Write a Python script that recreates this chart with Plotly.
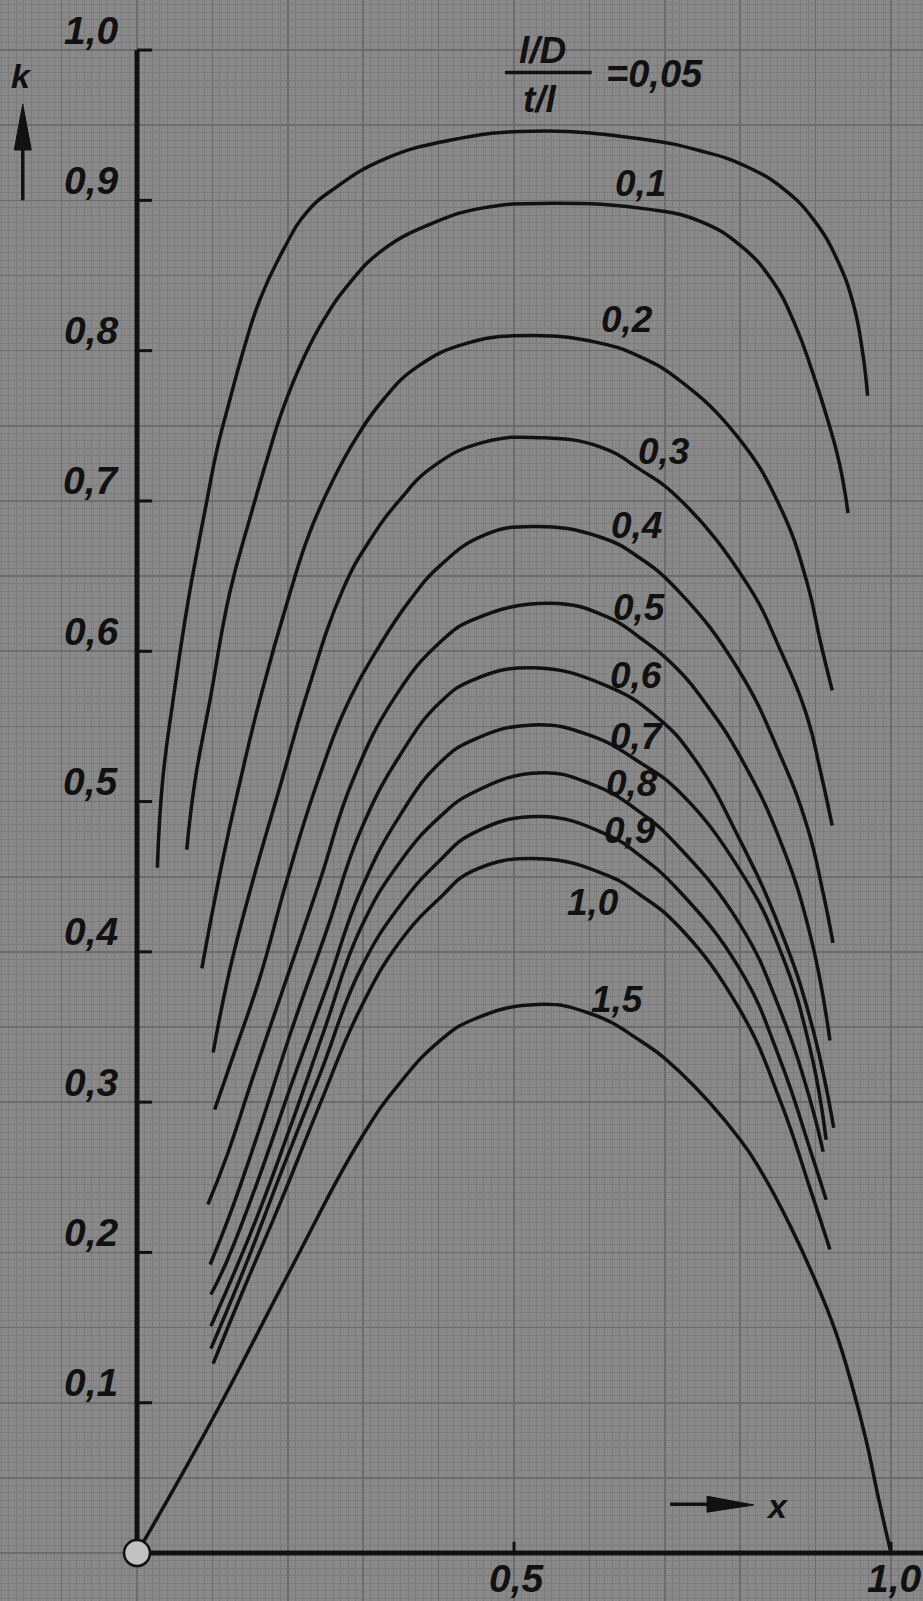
import plotly.graph_objects as go

# ---- data (x, k); parameter (l/D)/(t/l) ----
params = ["0,05", "0,1", "0,2", "0,3", "0,4", "0,5", "0,6", "0,7", "0,8", "0,9", "1,0", "1,5"]

x_005 = [0.027, 0.034, 0.048, 0.068, 0.080, 0.093, 0.106, 0.123, 0.141, 0.163, 0.194, 0.225, 0.265, 0.326, 0.415, 0.525, 0.667, 0.747, 0.806, 0.859, 0.899, 0.930, 0.950, 0.962, 0.969]
k_005 = [0.456, 0.514, 0.568, 0.634, 0.667, 0.701, 0.734, 0.767, 0.800, 0.834, 0.867, 0.892, 0.909, 0.927, 0.940, 0.946, 0.941, 0.933, 0.923, 0.907, 0.886, 0.859, 0.831, 0.800, 0.770]

x_01 = [0.066, 0.077, 0.097, 0.123, 0.150, 0.172, 0.194, 0.220, 0.247, 0.282, 0.326, 0.393, 0.459, 0.548, 0.680, 0.747, 0.800, 0.842, 0.873, 0.895, 0.916, 0.932, 0.943]
k_01 = [0.468, 0.514, 0.568, 0.639, 0.689, 0.727, 0.762, 0.794, 0.820, 0.845, 0.867, 0.885, 0.895, 0.898, 0.894, 0.886, 0.870, 0.847, 0.817, 0.787, 0.754, 0.724, 0.692]

x_02 = [0.086, 0.114, 0.137, 0.163, 0.203, 0.229, 0.260, 0.292, 0.326, 0.371, 0.438, 0.525, 0.614, 0.667, 0.720, 0.796, 0.853, 0.889, 0.906, 0.922]
k_02 = [0.389, 0.462, 0.514, 0.568, 0.639, 0.679, 0.714, 0.743, 0.767, 0.789, 0.805, 0.810, 0.805, 0.796, 0.780, 0.743, 0.696, 0.645, 0.607, 0.574]

x_03 = [0.101, 0.123, 0.154, 0.192, 0.223, 0.273, 0.309, 0.349, 0.393, 0.459, 0.538, 0.614, 0.667, 0.720, 0.809, 0.853, 0.889, 0.906, 0.922]
k_03 = [0.333, 0.388, 0.448, 0.514, 0.568, 0.641, 0.674, 0.701, 0.723, 0.739, 0.742, 0.736, 0.721, 0.701, 0.645, 0.601, 0.556, 0.521, 0.484]

x_04 = [0.103, 0.127, 0.163, 0.199, 0.240, 0.282, 0.322, 0.362, 0.402, 0.459, 0.525, 0.614, 0.667, 0.720, 0.796, 0.853, 0.889, 0.910, 0.923]
k_04 = [0.295, 0.330, 0.383, 0.448, 0.514, 0.568, 0.604, 0.634, 0.657, 0.677, 0.683, 0.676, 0.662, 0.639, 0.589, 0.531, 0.483, 0.439, 0.406]

x_05 = [0.094, 0.119, 0.154, 0.199, 0.243, 0.286, 0.344, 0.402, 0.446, 0.548, 0.623, 0.667, 0.711, 0.756, 0.802, 0.853, 0.893, 0.919]
k_05 = [0.232, 0.264, 0.317, 0.383, 0.448, 0.514, 0.571, 0.606, 0.621, 0.632, 0.623, 0.609, 0.591, 0.564, 0.528, 0.474, 0.411, 0.341]

x_06 = [0.097, 0.123, 0.163, 0.207, 0.252, 0.296, 0.349, 0.402, 0.446, 0.525, 0.623, 0.690, 0.740, 0.800, 0.853, 0.893, 0.924]
k_06 = [0.192, 0.225, 0.283, 0.351, 0.415, 0.480, 0.531, 0.566, 0.581, 0.589, 0.577, 0.556, 0.528, 0.474, 0.415, 0.355, 0.283]

x_07 = [0.098, 0.119, 0.159, 0.207, 0.252, 0.296, 0.349, 0.402, 0.446, 0.525, 0.601, 0.667, 0.720, 0.800, 0.853, 0.893, 0.914]
k_07 = [0.172, 0.194, 0.246, 0.315, 0.377, 0.440, 0.491, 0.526, 0.541, 0.551, 0.544, 0.526, 0.506, 0.454, 0.401, 0.335, 0.275]

x_08 = [0.098, 0.154, 0.203, 0.247, 0.296, 0.349, 0.402, 0.446, 0.531, 0.601, 0.667, 0.720, 0.800, 0.853, 0.893, 0.910]
k_08 = [0.151, 0.217, 0.283, 0.346, 0.415, 0.460, 0.490, 0.506, 0.519, 0.512, 0.493, 0.469, 0.418, 0.361, 0.301, 0.267]

x_09 = [0.098, 0.146, 0.194, 0.243, 0.296, 0.349, 0.402, 0.446, 0.534, 0.623, 0.667, 0.720, 0.800, 0.853, 0.893, 0.914]
k_09 = [0.136, 0.194, 0.257, 0.319, 0.388, 0.431, 0.461, 0.479, 0.490, 0.478, 0.464, 0.440, 0.388, 0.328, 0.268, 0.235]

x_10 = [0.101, 0.141, 0.190, 0.243, 0.296, 0.349, 0.402, 0.446, 0.534, 0.623, 0.667, 0.720, 0.800, 0.853, 0.893, 0.919]
k_10 = [0.126, 0.175, 0.233, 0.299, 0.362, 0.407, 0.436, 0.454, 0.462, 0.451, 0.438, 0.416, 0.361, 0.301, 0.242, 0.202]

x_15 = [0.0, 0.057, 0.114, 0.203, 0.296, 0.349, 0.402, 0.446, 0.531, 0.601, 0.667, 0.720, 0.800, 0.830, 0.866, 0.899, 0.926, 0.948, 0.967, 0.984, 1.0]
k_15 = [0.0, 0.050, 0.102, 0.188, 0.275, 0.313, 0.341, 0.355, 0.365, 0.359, 0.341, 0.320, 0.275, 0.252, 0.218, 0.182, 0.148, 0.112, 0.075, 0.035, 0.0]

xs = [x_005, x_01, x_02, x_03, x_04, x_05, x_06, x_07, x_08, x_09, x_10, x_15]
ks = [k_005, k_01, k_02, k_03, k_04, k_05, k_06, k_07, k_08, k_09, k_10, k_15]

k_ticks = [0.1, 0.2, 0.3, 0.4, 0.5, 0.6, 0.7, 0.8, 0.9, 1.0]
k_tick_text = ["0,1", "0,2", "0,3", "0,4", "0,5", "0,6", "0,7", "0,8", "0,9", "1,0"]
x_ticks = [0.5, 1.0]
x_tick_text = ["0,5", "1,0"]

# label placement (centre of text) for each curve parameter (from 0,1 on)
lab_x = [0.668, 0.650, 0.699, 0.663, 0.667, 0.662, 0.663, 0.656, 0.654, 0.605, 0.637]
lab_k = [0.911, 0.821, 0.733, 0.684, 0.629, 0.584, 0.543, 0.512, 0.481, 0.433, 0.368]

FONT = "Liberation Sans"
INK = "#111111"

fig = go.Figure()
for xv, kv, p in zip(xs, ks, params):
    fig.add_trace(go.Scatter(x=xv, y=kv, mode="lines", name=p,
                             line=dict(color=INK, width=3.5, shape="spline", smoothing=1.3),
                             hoverinfo="skip", showlegend=False))

shapes = []
# axes
shapes.append(dict(type="line", xref="x", yref="y", x0=0, x1=0, y0=0, y1=1.0,
                   line=dict(color=INK, width=5)))
shapes.append(dict(type="line", xref="x", yref="y", x0=0, x1=1.1, y0=0, y1=0,
                   line=dict(color=INK, width=5)))
for t in k_ticks:
    shapes.append(dict(type="line", xref="x", yref="y", x0=0, x1=0.02, y0=t, y1=t,
                       line=dict(color=INK, width=3)))
for t in x_ticks:
    shapes.append(dict(type="line", xref="x", yref="y", x0=t, x1=t, y0=0, y1=0.0075,
                       line=dict(color=INK, width=3)))
# origin circle
shapes.append(dict(type="circle", xref="x", yref="y", x0=-0.0172, x1=0.0172, y0=-0.00865, y1=0.00865,
                   fillcolor="#c2c2c2", line=dict(color=INK, width=2.5)))
# k arrow
shapes.append(dict(type="line", xref="x", yref="y", x0=-0.1515, x1=-0.1515, y0=0.900, y1=0.945,
                   line=dict(color=INK, width=3.5)))
shapes.append(dict(type="path", xref="x", yref="y",
                   path="M -0.1628,0.9335 L -0.1515,0.964 L -0.1402,0.9335 Z",
                   fillcolor=INK, line=dict(color=INK, width=1)))
# x arrow
shapes.append(dict(type="line", xref="x", yref="y", x0=0.707, x1=0.790, y0=0.0325, y1=0.0325,
                   line=dict(color=INK, width=3.5)))
shapes.append(dict(type="path", xref="x", yref="y",
                   path="M 0.756,0.0378 L 0.818,0.0320 L 0.756,0.0272 Z",
                   fillcolor=INK, line=dict(color=INK, width=1)))
# fraction bar
shapes.append(dict(type="line", xref="x", yref="y", x0=0.488, x1=0.603, y0=0.985, y1=0.985,
                   line=dict(color=INK, width=3.5)))

annotations = []
def txt(x, y, s, size=40, yshift=0):
    annotations.append(dict(x=x, y=y, xref="x", yref="y", text=s, showarrow=False,
                            font=dict(family=FONT, size=size, color=INK, style="italic", weight="bold"),
                            xanchor="center", yanchor="middle", yshift=yshift))

for t, s in zip(k_ticks, k_tick_text):
    txt(-0.061, t, s, size=39, yshift=20)
for t, s in zip(x_ticks, x_tick_text):
    txt(t + 0.004, -0.017, s, size=39)
for s, xx, kk in zip(params[1:], lab_x, lab_k):
    txt(xx, kk, s, size=37)
txt(0.538, 1.000, "l/D", size=37)
txt(0.534, 0.967, "t/l", size=37)
txt(0.686, 0.984, "=0,05", size=38)
txt(-0.153, 0.983, "k", size=34)
txt(0.849, 0.031, "x", size=34)

BG = "#898989"
fig.update_layout(
    width=923, height=1601,
    margin=dict(l=0, r=0, t=0, b=0),
    paper_bgcolor=BG, plot_bgcolor=BG,
    shapes=shapes, annotations=annotations,
    xaxis=dict(range=[-0.1817, 1.0424], showticklabels=False, zeroline=False, showline=False,
               tick0=0, dtick=0.1, showgrid=True, gridcolor="#6c6c6c", gridwidth=1.6,
               minor=dict(dtick=0.01, showgrid=True, gridcolor="#7b7b7b", gridwidth=1)),
    yaxis=dict(range=[-0.0319, 1.0333], showticklabels=False, zeroline=False, showline=False,
               tick0=0, dtick=0.05, showgrid=True, gridcolor="#6c6c6c", gridwidth=1.6,
               minor=dict(dtick=0.005, showgrid=True, gridcolor="#7b7b7b", gridwidth=1)),
)
fig.write_html("out.html", config={"displayModeBar": False, "staticPlot": True},
               post_script="document.body.style.margin='0px';document.body.style.padding='0px';document.body.style.overflow='hidden';")
